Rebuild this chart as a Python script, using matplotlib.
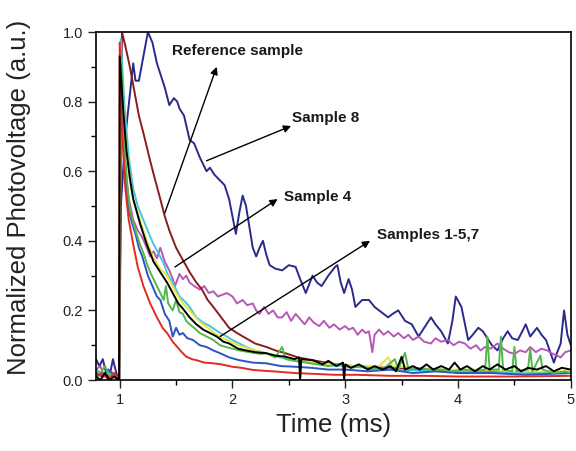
import matplotlib
matplotlib.use("Agg")
from matplotlib import pyplot as plt
from matplotlib.ticker import MultipleLocator

plt.rcParams["font.family"] = ["Liberation Sans", "DejaVu Sans"]

# Transient photovoltage traces, (time in ms, normalized value)
sample8 = [(0.79, 0.06), (0.82, 0.04), (0.85, 0.06), (0.88, 0.02), (0.91, 0.01), (0.94, 0.06),
           (0.97, 0.02), (0.995, 0.0), (1.01, 0.5), (1.05, 0.70), (1.08, 0.79), (1.12, 0.91),
           (1.14, 0.86), (1.17, 0.86), (1.21, 0.93), (1.25, 1.0), (1.29, 0.97), (1.33, 0.91),
           (1.36, 0.88), (1.40, 0.84), (1.44, 0.79), (1.48, 0.81), (1.51, 0.80), (1.53, 0.78),
           (1.57, 0.76), (1.62, 0.69), (1.66, 0.68), (1.71, 0.64), (1.74, 0.62), (1.77, 0.60),
           (1.80, 0.61), (1.84, 0.59), (1.885, 0.575), (1.93, 0.56), (1.97, 0.52), (2.00, 0.47),
           (2.03, 0.42), (2.06, 0.48), (2.09, 0.53), (2.12, 0.50), (2.15, 0.44), (2.18, 0.38),
           (2.21, 0.355), (2.24, 0.38), (2.27, 0.40), (2.30, 0.36), (2.33, 0.33), (2.38, 0.32),
           (2.44, 0.315), (2.50, 0.33), (2.56, 0.325), (2.60, 0.29), (2.65, 0.25), (2.71, 0.30),
           (2.75, 0.28), (2.79, 0.27), (2.85, 0.30), (2.91, 0.325), (2.93, 0.33), (2.96, 0.28),
           (2.99, 0.25), (3.03, 0.29), (3.06, 0.26), (3.09, 0.21), (3.15, 0.23), (3.21, 0.23),
           (3.26, 0.21), (3.30, 0.20), (3.34, 0.19), (3.38, 0.18), (3.42, 0.19), (3.47, 0.20),
           (3.53, 0.17), (3.59, 0.16), (3.65, 0.125), (3.70, 0.15), (3.76, 0.18), (3.80, 0.16),
           (3.85, 0.14), (3.91, 0.105), (3.95, 0.17), (3.98, 0.24), (4.03, 0.21), (4.09, 0.115),
           (4.13, 0.13), (4.18, 0.15), (4.22, 0.14), (4.26, 0.12), (4.30, 0.10), (4.35, 0.085),
           (4.40, 0.12), (4.44, 0.14), (4.48, 0.12), (4.53, 0.115), (4.57, 0.14), (4.60, 0.16),
           (4.64, 0.125), (4.70, 0.15), (4.74, 0.13), (4.78, 0.115), (4.85, 0.05), (4.88, 0.08),
           (4.91, 0.105), (4.94, 0.20), (4.97, 0.13), (5.0, 0.10)]

sample4 = [(0.79, 0.03), (0.83, 0.04), (0.86, 0.01), (0.90, 0.03), (0.94, 0.02), (0.97, 0.01),
           (0.995, 0.0), (1.005, 0.88), (1.03, 0.72), (1.05, 0.61), (1.08, 0.52), (1.12, 0.46),
           (1.16, 0.43), (1.20, 0.41), (1.24, 0.38), (1.27, 0.355), (1.30, 0.37), (1.33, 0.35),
           (1.36, 0.38), (1.40, 0.34), (1.44, 0.315), (1.47, 0.29), (1.49, 0.27), (1.53, 0.305),
           (1.56, 0.29), (1.59, 0.30), (1.62, 0.28), (1.66, 0.27), (1.71, 0.26), (1.75, 0.27),
           (1.79, 0.25), (1.83, 0.255), (1.87, 0.24), (1.91, 0.245), (1.95, 0.25), (2.00, 0.24),
           (2.04, 0.22), (2.09, 0.23), (2.13, 0.215), (2.18, 0.22), (2.21, 0.20), (2.24, 0.19),
           (2.28, 0.21), (2.32, 0.19), (2.36, 0.20), (2.40, 0.18), (2.44, 0.18), (2.48, 0.195),
           (2.52, 0.17), (2.56, 0.19), (2.60, 0.175), (2.64, 0.16), (2.68, 0.18), (2.72, 0.165),
           (2.77, 0.155), (2.81, 0.17), (2.86, 0.15), (2.90, 0.16), (2.95, 0.145), (3.00, 0.155),
           (3.03, 0.145), (3.07, 0.15), (3.11, 0.13), (3.15, 0.145), (3.18, 0.135), (3.21, 0.14),
           (3.24, 0.08), (3.26, 0.13), (3.30, 0.145), (3.34, 0.13), (3.38, 0.14), (3.43, 0.125),
           (3.47, 0.135), (3.52, 0.12), (3.56, 0.13), (3.60, 0.115), (3.65, 0.125), (3.70, 0.11),
           (3.76, 0.105), (3.80, 0.12), (3.85, 0.11), (3.91, 0.115), (3.96, 0.10), (4.01, 0.11),
           (4.06, 0.105), (4.11, 0.09), (4.16, 0.10), (4.20, 0.085), (4.24, 0.095), (4.29, 0.09),
           (4.35, 0.105), (4.40, 0.09), (4.45, 0.08), (4.50, 0.075), (4.55, 0.085), (4.60, 0.08),
           (4.64, 0.095), (4.69, 0.08), (4.74, 0.09), (4.79, 0.085), (4.84, 0.075), (4.88, 0.07),
           (4.91, 0.065), (4.95, 0.08), (5.0, 0.085)]

reference = [(0.79, 0.02), (0.85, 0.01), (0.90, 0.02), (0.95, 0.01), (0.995, 0.0), (1.02, 1.0),
             (1.05, 0.96), (1.09, 0.90), (1.13, 0.83), (1.17, 0.76), (1.21, 0.71), (1.24, 0.67),
             (1.27, 0.63), (1.31, 0.58), (1.36, 0.52), (1.40, 0.47), (1.44, 0.43), (1.50, 0.38),
             (1.56, 0.345), (1.62, 0.31), (1.68, 0.28), (1.73, 0.26), (1.78, 0.23), (1.83, 0.21),
             (1.90, 0.18), (1.97, 0.15), (2.04, 0.135), (2.12, 0.12), (2.20, 0.105), (2.30, 0.095),
             (2.38, 0.085), (2.47, 0.077), (2.58, 0.065), (2.71, 0.057), (2.86, 0.048), (3.0, 0.042),
             (3.2, 0.037), (3.4, 0.035), (3.6, 0.03), (3.8, 0.03), (4.0, 0.025), (4.2, 0.025),
             (4.4, 0.022), (4.6, 0.022), (4.8, 0.02), (5.0, 0.02)]

cyan_s = [(0.79, 0.02), (0.85, 0.015), (0.90, 0.02), (0.95, 0.01), (0.995, 0.0), (1.01, 0.98),
          (1.04, 0.80), (1.08, 0.64), (1.12, 0.55), (1.16, 0.50), (1.21, 0.46), (1.26, 0.42),
          (1.30, 0.39), (1.35, 0.36), (1.39, 0.335), (1.43, 0.30), (1.47, 0.28), (1.53, 0.24),
          (1.58, 0.225), (1.62, 0.21), (1.68, 0.18), (1.74, 0.165), (1.80, 0.155), (1.89, 0.135),
          (1.95, 0.125), (2.0, 0.115), (2.06, 0.105), (2.12, 0.095), (2.20, 0.085), (2.30, 0.077),
          (2.42, 0.065), (2.56, 0.057), (2.70, 0.05), (2.86, 0.043), (3.0, 0.04), (3.2, 0.035),
          (3.4, 0.03), (3.6, 0.028), (3.8, 0.025), (4.0, 0.025), (4.3, 0.022), (4.6, 0.02),
          (5.0, 0.02)]

yellow_s = [(0.79, 0.01), (0.90, 0.02), (0.995, 0.0), (1.01, 0.90), (1.04, 0.74), (1.08, 0.60),
            (1.12, 0.52), (1.18, 0.46), (1.24, 0.40), (1.30, 0.35), (1.36, 0.32), (1.42, 0.30),
            (1.50, 0.25), (1.56, 0.22), (1.62, 0.20), (1.70, 0.17), (1.78, 0.15), (1.86, 0.13),
            (1.95, 0.115), (2.05, 0.10), (2.15, 0.09), (2.25, 0.08), (2.40, 0.07), (2.55, 0.06),
            (2.70, 0.05), (2.90, 0.045), (3.1, 0.04), (3.3, 0.04), (3.38, 0.065), (3.42, 0.04),
            (3.6, 0.035), (3.9, 0.03), (4.2, 0.03), (4.5, 0.025), (5.0, 0.025)]

blue_s = [(0.79, 0.02), (0.84, 0.01), (0.90, 0.03), (0.95, 0.01), (0.995, 0.0), (1.01, 0.92),
          (1.04, 0.62), (1.08, 0.49), (1.11, 0.45), (1.14, 0.42), (1.17, 0.38), (1.20, 0.355),
          (1.25, 0.30), (1.29, 0.27), (1.33, 0.24), (1.36, 0.23), (1.40, 0.19), (1.44, 0.17),
          (1.47, 0.125), (1.50, 0.15), (1.53, 0.13), (1.56, 0.135), (1.60, 0.12), (1.65, 0.115),
          (1.71, 0.10), (1.77, 0.095), (1.83, 0.085), (1.89, 0.077), (1.97, 0.065), (2.06, 0.057),
          (2.18, 0.05), (2.30, 0.048), (2.43, 0.04), (2.56, 0.038), (2.70, 0.035), (2.85, 0.03),
          (3.0, 0.03), (3.2, 0.025), (3.4, 0.03), (3.6, 0.02), (3.8, 0.025), (4.0, 0.02),
          (4.3, 0.02), (4.6, 0.015), (5.0, 0.02)]

green_s = [(0.79, 0.03), (0.83, 0.02), (0.87, 0.04), (0.91, 0.01), (0.95, 0.02), (0.995, 0.0),
           (1.01, 0.95), (1.04, 0.68), (1.07, 0.55), (1.09, 0.49), (1.12, 0.45), (1.15, 0.42),
           (1.18, 0.39), (1.21, 0.365), (1.24, 0.335), (1.27, 0.31), (1.30, 0.29), (1.33, 0.27),
           (1.36, 0.25), (1.39, 0.23), (1.41, 0.27), (1.43, 0.22), (1.47, 0.20), (1.50, 0.23),
           (1.53, 0.195), (1.56, 0.19), (1.59, 0.17), (1.62, 0.16), (1.66, 0.15), (1.71, 0.135),
           (1.77, 0.125), (1.83, 0.115), (1.89, 0.10), (1.94, 0.095), (2.0, 0.09), (2.06, 0.085),
           (2.15, 0.08), (2.25, 0.075), (2.30, 0.077), (2.38, 0.065), (2.44, 0.095), (2.47, 0.06),
           (2.55, 0.055), (2.65, 0.05), (2.75, 0.045), (2.85, 0.04), (2.95, 0.045), (3.05, 0.035),
           (3.15, 0.04), (3.25, 0.03), (3.35, 0.035), (3.44, 0.06), (3.47, 0.03), (3.53, 0.078),
           (3.56, 0.03), (3.65, 0.035), (3.75, 0.03), (3.85, 0.03), (3.95, 0.025), (4.05, 0.03),
           (4.15, 0.025), (4.24, 0.03), (4.26, 0.125), (4.28, 0.03), (4.36, 0.03), (4.38, 0.125),
           (4.40, 0.03), (4.48, 0.025), (4.50, 0.095), (4.52, 0.025), (4.62, 0.03), (4.64, 0.09),
           (4.66, 0.025), (4.73, 0.07), (4.75, 0.03), (4.85, 0.02), (4.95, 0.025), (5.0, 0.02)]

red_s = [(0.79, 0.01), (0.85, 0.02), (0.90, 0.0), (0.95, 0.02), (0.995, 0.0), (1.0, 0.97),
         (1.02, 0.72), (1.05, 0.55), (1.08, 0.46), (1.12, 0.39), (1.16, 0.325), (1.21, 0.27),
         (1.27, 0.22), (1.33, 0.18), (1.38, 0.15), (1.42, 0.135), (1.47, 0.11), (1.51, 0.095),
         (1.55, 0.08), (1.59, 0.067), (1.64, 0.06), (1.68, 0.057), (1.75, 0.05), (1.83, 0.048),
         (1.90, 0.045), (2.0, 0.038), (2.08, 0.035), (2.18, 0.029), (2.30, 0.026), (2.40, 0.024),
         (2.55, 0.02), (2.70, 0.018), (2.9, 0.015), (3.1, 0.015), (3.4, 0.012), (3.7, 0.012),
         (4.0, 0.01), (4.5, 0.01), (5.0, 0.012)]

black_s = [(0.79, 0.01), (0.83, 0.0), (0.87, 0.02), (0.91, 0.0), (0.95, 0.01), (0.995, 0.0),
           (1.0, 0.93), (1.03, 0.78), (1.06, 0.66), (1.09, 0.58), (1.12, 0.52), (1.18, 0.45),
           (1.24, 0.39), (1.30, 0.34), (1.36, 0.31), (1.42, 0.28), (1.47, 0.25), (1.52, 0.22),
           (1.56, 0.205), (1.62, 0.18), (1.68, 0.16), (1.74, 0.145), (1.80, 0.135), (1.86, 0.125),
           (1.92, 0.11), (1.97, 0.105), (2.05, 0.09), (2.12, 0.085), (2.20, 0.08), (2.30, 0.077),
           (2.38, 0.07), (2.47, 0.067), (2.55, 0.06), (2.59, 0.065), (2.60, 0.0), (2.61, 0.06),
           (2.71, 0.057), (2.80, 0.045), (2.85, 0.055), (2.92, 0.04), (2.98, 0.05), (2.99, 0.0),
           (3.00, 0.045), (3.05, 0.035), (3.12, 0.045), (3.2, 0.03), (3.26, 0.04), (3.33, 0.03),
           (3.40, 0.04), (3.45, 0.025), (3.50, 0.067), (3.53, 0.03), (3.60, 0.04), (3.66, 0.03),
           (3.72, 0.045), (3.78, 0.03), (3.85, 0.04), (3.92, 0.03), (3.97, 0.05), (4.02, 0.03),
           (4.08, 0.04), (4.15, 0.025), (4.22, 0.04), (4.28, 0.03), (4.35, 0.045), (4.42, 0.03),
           (4.50, 0.04), (4.56, 0.025), (4.62, 0.035), (4.70, 0.03), (4.78, 0.04), (4.85, 0.025),
           (4.92, 0.035), (5.0, 0.03)]

traces = [
    (sample8, "#2a2a8c"),
    (sample4, "#b658b8"),
    (reference, "#8b1c1c"),
    (cyan_s, "#45c6e0"),
    (yellow_s, "#e6e63a"),
    (blue_s, "#2a55c2"),
    (green_s, "#52b84a"),
    (red_s, "#e32b22"),
    (black_s, "#000000"),
]

# label text, text position, arrow tail (on the curve), arrow head
labels = [
    ("Reference sample", (1.46, 0.945), (1.40, 0.48), (1.86, 0.90)),
    ("Sample 8", (2.53, 0.753), (1.77, 0.63), (2.52, 0.73)),
    ("Sample 4", (2.46, 0.526), (1.49, 0.325), (2.40, 0.52)),
    ("Samples 1-5,7", (3.28, 0.417), (1.89, 0.125), (3.22, 0.40)),
]

fig = plt.figure(figsize=(5.76, 4.51), dpi=100)
ax = fig.add_axes([0.1667, 0.1574, 0.8243, 0.7716])

for data, color in traces:
    t = [p[0] for p in data]
    v = [p[1] for p in data]
    ax.plot(t, v, color=color, lw=1.4)

for text, pos, tail, head in labels:
    ax.annotate("", xy=head, xytext=tail,
                arrowprops=dict(arrowstyle="-|>", color="k", lw=1.0,
                                mutation_scale=11, shrinkA=0, shrinkB=0))
    ax.text(pos[0], pos[1], text, fontsize=11, fontweight="bold",
            ha="left", va="center", color="#1a1a1a")

ax.set_xlim(0.79, 5.0)
ax.set_ylim(0.0, 1.0)
ax.xaxis.set_major_locator(MultipleLocator(1))
ax.xaxis.set_minor_locator(MultipleLocator(0.5))
ax.yaxis.set_major_locator(MultipleLocator(0.2))
ax.yaxis.set_minor_locator(MultipleLocator(0.1))
ax.yaxis.set_major_formatter(plt.FormatStrFormatter("%.1f"))
ax.tick_params(which="major", direction="out", length=6, width=1.0, labelsize=10.5, colors="#222222")
ax.tick_params(which="minor", direction="out", length=3.5, width=1.0)
for s in ax.spines.values():
    s.set_linewidth(1.2)

ax.set_xlabel("Time (ms)", fontsize=18.5, color="#222222")
ax.set_ylabel("Normalized Photovoltage (a.u.)", fontsize=18.5, color="#222222")
ax.xaxis.set_label_coords(0.5, -0.095)
ax.yaxis.set_label_coords(-0.137, 0.526)

fig.savefig("out.png", dpi=100)
